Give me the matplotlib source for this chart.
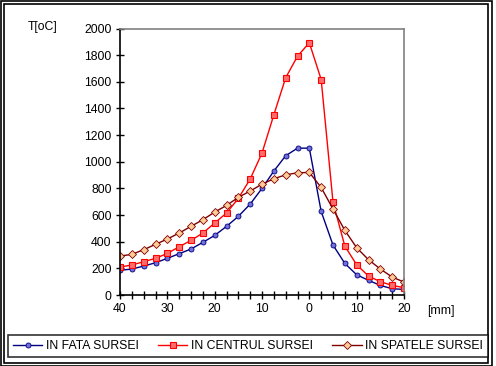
import matplotlib.pyplot as plt
from matplotlib.patches import Rectangle

plt.rcParams['font.family'] = ['Liberation Sans', 'DejaVu Sans']
plt.rcParams['font.size'] = 8.8

# distance positions (mm), 2.5 mm step, 40 in front of source to 20 behind
pos_labels = ['40', '30', '20', '10', '0', '10', '20']
n_points = 25

fata = [185, 195, 217, 242, 275, 310, 345, 395, 447, 515, 590, 682,
        800, 930, 1045, 1102, 1102, 627, 375, 237, 152, 110, 72, 47, 42]
centru = [210, 225, 250, 275, 312, 362, 410, 465, 540, 615, 725, 870,
          1065, 1352, 1630, 1792, 1893, 1617, 697, 367, 227, 142, 100, 72, 55]
spate = [292, 305, 340, 380, 420, 465, 515, 565, 622, 672, 733, 780,
         832, 872, 902, 917, 920, 807, 645, 485, 355, 265, 195, 135, 97]

idx = list(range(n_points))

fig = plt.figure(figsize=(4.96, 3.66), dpi=100)
ax = fig.add_axes([120 / 496, 1 - 295 / 366, 284 / 496, 266.5 / 366])

l1, = ax.plot(idx, fata, color='#000080', lw=1, marker='o', ms=3.6,
              mfc='#7070D8', mec='#000080', mew=0.6, label='IN FATA SURSEI')
l2, = ax.plot(idx, centru, color='#FF0000', lw=1, marker='s', ms=4.4,
              mfc='#FF6C6C', mec='#FF0000', mew=0.8, label='IN CENTRUL SURSEI')
l3, = ax.plot(idx, spate, color='#800000', lw=1, marker='D', ms=3.8,
              mfc='#FFCC99', mec='#800000', mew=0.6, label='IN SPATELE SURSEI')

ax.set_xlim(0, 24)
ax.set_ylim(0, 2000)
ax.set_yticks(range(0, 2001, 200))
ax.set_xticks(idx)
ax.set_xticklabels([pos_labels[i // 4] if i % 4 == 0 else '' for i in idx])
ax.tick_params(direction='inout', length=6, width=1, color='black', pad=3)

for s in ['left', 'bottom']:
    ax.spines[s].set_color('black')
    ax.spines[s].set_linewidth(1.2)
for s in ['top', 'right']:
    ax.spines[s].set_color('#808080')
    ax.spines[s].set_linewidth(1.2)

fig.text(28 / 496, 1 - 27 / 366, 'T[oC]', ha='left', va='center')
fig.text(427 / 496, 1 - 311 / 366, '[mm]', ha='left', va='center')

leg = fig.legend(handles=[l1, l2, l3], loc='lower left', ncol=3, mode='expand',
                 bbox_to_anchor=(8 / 496, 9 / 366, 480 / 496, 24 / 366),
                 frameon=True, fancybox=False, edgecolor='black',
                 handlelength=2.4, handletextpad=0.3, columnspacing=1.0,
                 borderpad=0.4, borderaxespad=0)
leg.get_frame().set_linewidth(1.2)

# double border around the chart
fig.patches.append(Rectangle((0.5 / 496, 0.5 / 366), 491.5 / 496, 365 / 366,
                             transform=fig.transFigure, fill=False,
                             edgecolor='black', lw=1.2))
fig.patches.append(Rectangle((3.5 / 496, 3.5 / 366), 484 / 496, 359 / 366,
                             transform=fig.transFigure, fill=False,
                             edgecolor='black', lw=1.2))

fig.savefig('out.png', dpi=100)
